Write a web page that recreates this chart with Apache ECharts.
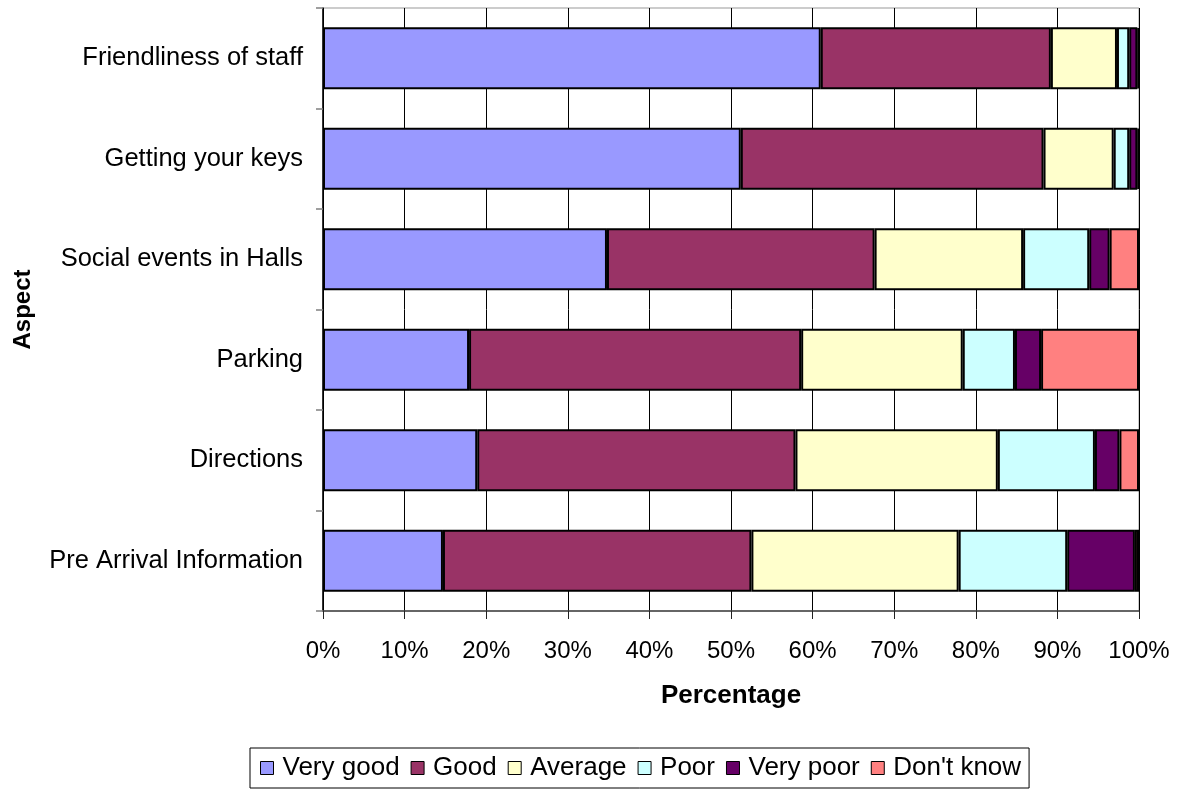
<!DOCTYPE html>
<html>
<head>
<meta charset="utf-8">
<script src="https://cdn.jsdelivr.net/npm/echarts@6/dist/echarts.min.js"></script>
<style>
html,body{margin:0;padding:0;background:#fff;}
#chart{width:1181px;height:791px;}
</style>
</head>
<body>
<div id="chart"></div>
<script>
const categories = ["Friendliness of staff", "Getting your keys", "Social events in Halls", "Parking", "Directions", "Pre Arrival Information"];
const seriesNames = ["Very good", "Good", "Average", "Poor", "Very poor", "Don't know"];
const veryGood = [61.0, 51.2, 34.8, 17.9, 18.9, 14.7];
const good     = [28.2, 37.1, 32.8, 40.7, 39.0, 37.8];
const average  = [8.1, 8.6, 18.2, 19.8, 24.8, 25.4];
const poor     = [1.5, 1.9, 8.1, 6.4, 11.9, 13.3];
const veryPoor = [1.0, 1.0, 2.5, 3.2, 3.0, 8.3];
const dontKnow = [0.2, 0.2, 3.6, 12.0, 2.4, 0.5];
const xTicks = [0, 10, 20, 30, 40, 50, 60, 70, 80, 90, 100];

const colors = ["#9999FF", "#993366", "#FFFFCC", "#CCFFFF", "#660066", "#FF8080"];
const values = [veryGood, good, average, poor, veryPoor, dontKnow];
const font = "'Liberation Sans', Arial, sans-serif";

const chart = echarts.init(document.getElementById('chart'), null, {renderer: 'canvas'});
chart.setOption({
  animation: false,
  backgroundColor: '#fff',
  textStyle: {fontFamily: font},
  grid: {left: 323, right: 42, top: 8, bottom: 180, show: true, borderColor: '#999', borderWidth: 1, backgroundColor: 'transparent'},
  legend: {
    data: seriesNames,
    left: 250, top: 748,
    borderColor: '#000', borderWidth: 1,
    padding: [7, 8, 7, 10],
    itemWidth: 13, itemHeight: 13, itemGap: 11,
    icon: 'rect',
    itemStyle: {borderColor: '#000', borderWidth: 1},
    textStyle: {fontSize: 26, color: '#000', fontFamily: font, padding: [0, 0, 0, 4]}
  },
  xAxis: {
    type: 'value', min: xTicks[0], max: xTicks[xTicks.length - 1], interval: xTicks[1] - xTicks[0],
    name: 'Percentage', nameLocation: 'middle', nameGap: 72,
    nameTextStyle: {fontSize: 26, fontWeight: 'bold', color: '#000', fontFamily: font},
    axisLine: {show: true, lineStyle: {color: '#444', width: 1.5}},
    axisTick: {show: true, length: 8, lineStyle: {color: '#222'}},
    axisLabel: {formatter: '{value}%', fontSize: 24, color: '#000', margin: 28, fontFamily: font},
    splitLine: {show: true, lineStyle: {color: '#000', width: 1}}
  },
  yAxis: {
    type: 'category', data: categories, inverse: true,
    name: 'Aspect', nameLocation: 'middle', nameGap: 288, nameRotate: 90,
    nameTextStyle: {fontSize: 24, fontWeight: 'bold', color: '#000', fontFamily: font},
    axisLine: {show: true, lineStyle: {color: '#000', width: 1.5}},
    axisTick: {show: true, length: 7, lineStyle: {color: '#808080', width: 1.5}},
    axisLabel: {fontSize: 25.5, color: '#000', margin: 20, fontFamily: font},
    splitLine: {show: false}
  },
  series: seriesNames.map((n, i) => ({
    name: n, type: 'bar', stack: 'total', data: values[i],
    barWidth: 62,
    itemStyle: {color: colors[i], borderColor: '#000', borderWidth: 2}
  }))
});
</script>
</body>
</html>
